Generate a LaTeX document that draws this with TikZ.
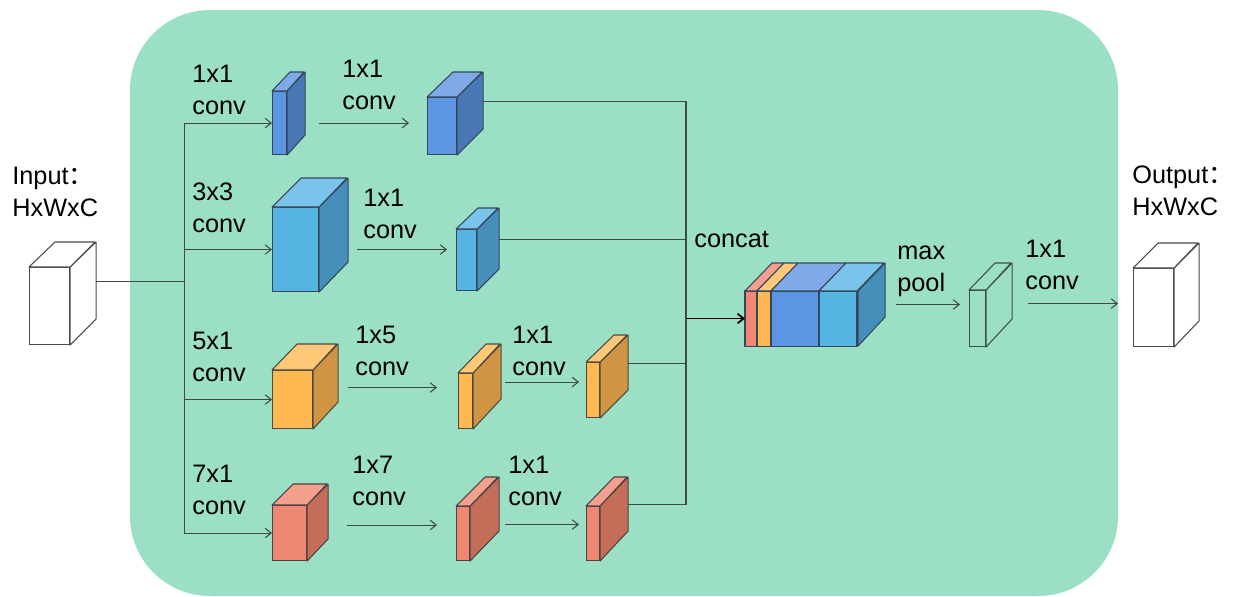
\documentclass[tikz,border=0pt]{standalone}
\usepackage{fontspec}
\setmainfont{Liberation Sans}
\newfontfamily\cjk{Noto Sans CJK SC}
\usetikzlibrary{arrows.meta,calc}

\definecolor{bggreen}{HTML}{9BDFC4}
\definecolor{wireC}{HTML}{3E4A48}
% face colours: F front, S side, T top, E edge
\definecolor{blueF}{HTML}{5C95E2}\definecolor{blueS}{HTML}{4A78B6}\definecolor{blueT}{HTML}{7FA9E8}\definecolor{blueE}{HTML}{34475A}
\definecolor{skyF}{HTML}{55B4E2}\definecolor{skyS}{HTML}{468FBA}\definecolor{skyT}{HTML}{7AC3EA}\definecolor{skyE}{HTML}{34475A}
\definecolor{orangeF}{HTML}{FFB852}\definecolor{orangeS}{HTML}{CF9444}\definecolor{orangeT}{HTML}{FFC878}\definecolor{orangeE}{HTML}{4A4A40}
\definecolor{redF}{HTML}{EF8872}\definecolor{redS}{HTML}{C46D59}\definecolor{redT}{HTML}{F4A08E}\definecolor{redE}{HTML}{4A4444}
\definecolor{whiteF}{HTML}{FFFFFF}\definecolor{whiteS}{HTML}{FFFFFF}\definecolor{whiteT}{HTML}{FFFFFF}\definecolor{whiteE}{HTML}{4A4A50}
\definecolor{hollowF}{HTML}{9BDFC4}\definecolor{hollowS}{HTML}{9BDFC4}\definecolor{hollowT}{HTML}{9BDFC4}\definecolor{hollowE}{HTML}{3C5048}

% cuboid: name, x, y, width, height, depth x, depth y, colour
\newcommand{\cuboid}[8]{%
  \node[front, draw=#8E, fill=#8F, minimum width=#4*0.02cm, minimum height=#5*0.02cm] (#1) at (#2,#3) {};
  \filldraw[edge, draw=#8E, fill=#8S] (#1.north east) -- ++(#6,-#7) -- ++(0,#5) -- (#1.south east) -- cycle;
  \filldraw[edge, draw=#8E, fill=#8T] (#1.north west) -- ++(#6,-#7) -- ++(#4,0) -- (#1.north east) -- cycle;
  \coordinate (#1-b) at ($(#1.east)+(#6,-#7)$);
}
% two-line label: name, x, baseline y, line 1, line 2
\newcommand{\lbl}[5]{\node[lbl] (#1) at (#2,#3-22) {\strut#4\\#5};}

\begin{document}
\begin{tikzpicture}[x=0.02cm, y=-0.02cm,
    front/.style={inner sep=0, anchor=north west, line width=0.6pt},
    edge/.style={line width=0.6pt, line join=round},
    lbl/.style={inner sep=0, anchor=north west, align=left, font=\fontsize{14.4}{18}\selectfont},
    line/.style={draw=wireC, line width=0.6pt},
    arr/.style={line, -{Straight Barb[length=1.2mm,width=1.9mm]}}]
  \useasboundingbox (0,0) rectangle (1234,596);

  % Background
  \fill[bggreen, rounded corners=1.6cm] (130,10) rectangle (1118,596);

  % Input and output
  \cuboid{in}{29}{267}{40}{77}{26}{25}{white}
  \cuboid{out}{1133}{268}{40}{78}{25}{25}{white}
  \lbl{lin}{12}{184}{Input\rlap{\cjk ：}}{HxWxC}
  \lbl{lout}{1132}{183}{Output\rlap{\cjk ：}}{HxWxC}

  % Branch 1
  \cuboid{c11}{272}{91}{14}{63}{18}{19}{blue}
  \cuboid{c12}{427}{97}{29}{57}{26}{25}{blue}
  % Branch 2
  \cuboid{c21}{272}{207}{46}{84}{29}{29}{sky}
  \cuboid{c22}{456}{229}{20}{61}{22}{21}{sky}
  % Branch 3
  \cuboid{c31}{272}{370}{40}{58}{25}{26}{orange}
  \cuboid{c32}{458}{373}{14}{55}{28}{29}{orange}
  \cuboid{c33}{586}{362}{13}{55}{28}{27}{orange}
  % Branch 4
  \cuboid{c41}{272}{505}{34}{55}{21}{21}{red}
  \cuboid{c42}{456}{506}{13}{54}{29}{29}{red}
  \cuboid{c43}{586}{506}{13}{54}{28}{29}{red}

  % Labels
  \lbl{l11}{192}{82}{1x1}{conv}
  \lbl{l12}{342}{77}{1x1}{conv}
  \lbl{l21}{192}{200}{3x3}{conv}
  \lbl{l22}{363}{206}{1x1}{conv}
  \lbl{l31}{192}{349}{5x1}{conv}
  \lbl{l32}{355}{343}{1x5}{conv}
  \lbl{l33}{512}{343}{1x1}{conv}
  \lbl{l41}{192}{482}{7x1}{conv}
  \lbl{l42}{352}{473}{1x7}{conv}
  \lbl{l43}{508}{473}{1x1}{conv}
  \lbl{lmp}{897}{259}{max}{pool}
  \lbl{lfin}{1025}{257}{1x1}{conv}
  \node[lbl] (lcat) at (694,247-22) {\strut concat};

  % Concat block
  \node[front, minimum width=112*0.02cm, minimum height=54*0.02cm] (cat) at (745,291) {};
  \foreach \xa/\xb/\c in {0/12/red, 12/26/orange, 26/74/blue, 74/112/sky} {
    \filldraw[edge, draw=blueE, fill=\c F] ($(cat.north west)+(\xa,0)$) rectangle ($(cat.south west)+(\xb,0)$);
    \filldraw[edge, draw=blueE, fill=\c T] ($(cat.north west)+(\xa,0)$) -- ++(27,-28) -- ++(\xb-\xa,0) -- ($(cat.north west)+(\xb,0)$) -- cycle;
  }
  \filldraw[edge, draw=blueE, fill=skyS] (cat.north east) -- ++(27,-28) -- ++(0,54) -- (cat.south east) -- cycle;

  % Max pool result
  \cuboid{mp}{969}{290}{16}{56}{26}{27}{hollow}

  % Split to the branches
  \coordinate (split) at ($(in-b)+(88,0)$);
  \draw[line] (in-b) -- (split);
  \foreach \c in {c11,c21,c31,c41}
    \draw[arr] (split) |- (\c.west);

  % Arrows inside the branches
  \draw[arr] ($(c11.east)+(32,0)$) -- ++(90,0);
  \draw[arr] ($(c21.east)+(38,0)$) -- ++(90,0);
  \draw[arr] ($(c31.east)+(35,-12)$) -- ++(89,0);
  \draw[arr] ($(c32.east)+(32,-19)$) -- ++(74,0);
  \draw[arr] ($(c41.east)+(40,-8)$) -- ++(90,0);
  \draw[arr] ($(c42.east)+(35,-9)$) -- ++(74,0);

  % Concatenation
  \coordinate (bus) at ($(cat.west)+(-59,0)$);
  \foreach \c in {c12,c22,c33,c43}
    \draw[line] (\c-b) -| (bus);
  \draw[arr, draw=black, line width=1pt] (bus) -- (cat.west);

  % Pool and last conv
  \draw[arr] ($(cat.east)+(38,-14)$) -- ++(64,0);
  \draw[arr] ($(mp.east)+(42,-15)$) -- ++(90,0);
\end{tikzpicture}
\end{document}
